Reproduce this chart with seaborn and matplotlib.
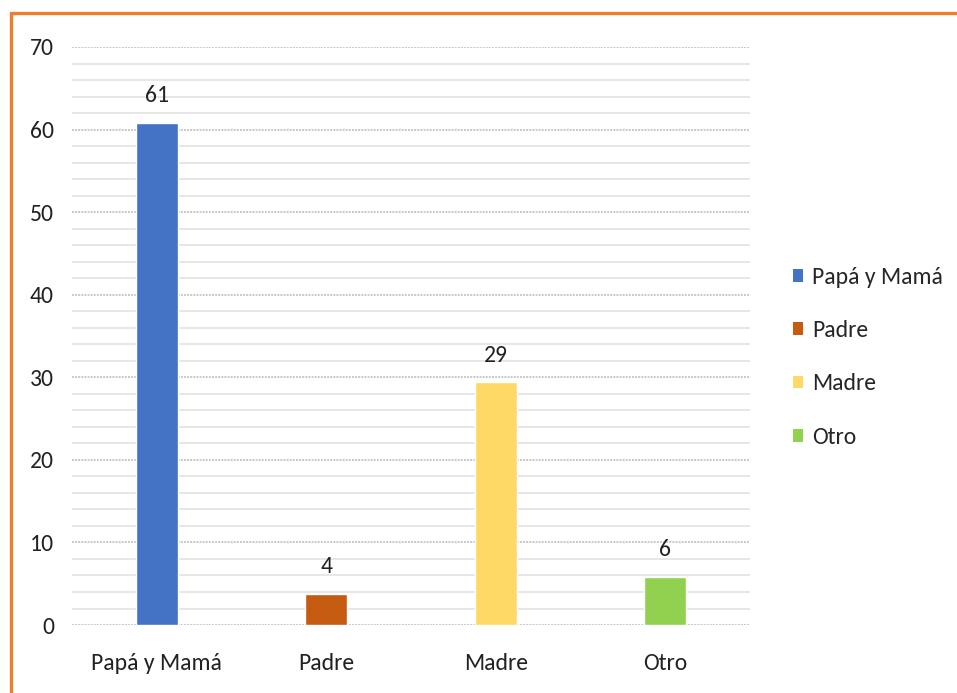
import matplotlib
matplotlib.use("Agg")
import matplotlib.pyplot as plt
import seaborn as sns
import pandas as pd
from matplotlib.patches import Patch, Rectangle

# datos
categorias = ["Papá y Mamá", "Padre", "Madre", "Otro"]
valores = [60.8, 3.8, 29.4, 5.8]
colores = ["#4472C4", "#C55A11", "#FFD966", "#92D050"]
y_ticks = [0, 10, 20, 30, 40, 50, 60, 70]

sns.set_style("white")
plt.rcParams["font.family"] = ["Carlito", "Lato", "DejaVu Sans"]

df = pd.DataFrame({"cat": categorias, "val": valores})

fig = plt.figure(figsize=(9.57, 6.93), dpi=100)
ax = fig.add_axes([0.0752, 0.0981, 0.7085, 0.8341])

sns.barplot(data=df, x="cat", y="val", hue="cat", palette=colores,
            width=0.25, legend=False, ax=ax, saturation=1)

ax.set_ylim(0, 70)
ax.set_xlim(-0.5, 3.5)
ax.set_yticks(y_ticks)
ax.set_yticks(range(0, 71, 2), minor=True)
ax.grid(axis="y", which="major", color="#c8c8c8", linewidth=1.4, linestyle=(0, (1, 0.6)))
ax.grid(axis="y", which="minor", color="#e3e3e3", linewidth=1.2, linestyle="-")
ax.set_axisbelow(True)
for s in ax.spines.values():
    s.set_visible(False)
ax.tick_params(axis="both", which="both", length=0, labelsize=17, colors="#222222")
ax.tick_params(axis="y", pad=13)
ax.tick_params(axis="x", pad=20)
ax.set_xlabel("")
ax.set_ylabel("")

for c in ax.containers:
    ax.bar_label(c, fmt="%.0f", padding=12, fontsize=17, color="#222222")

# leyenda
handles = [Patch(facecolor=c, edgecolor="none", label=l) for c, l in zip(colores, categorias)]
fig.legend(handles=handles, loc="center left", bbox_to_anchor=(0.8285, 0.4845),
           frameon=False, fontsize=17, handlelength=0.45, handleheight=0.45,
           handletextpad=0.35, labelspacing=1.37, borderaxespad=0, borderpad=0)

# borde naranja
fig.patches.append(Rectangle((0.0115, -0.05), 1.2, 1.031, transform=fig.transFigure,
                             fill=False, edgecolor="#ED7D31", linewidth=2.4))

fig.savefig("out.png", dpi=100)
